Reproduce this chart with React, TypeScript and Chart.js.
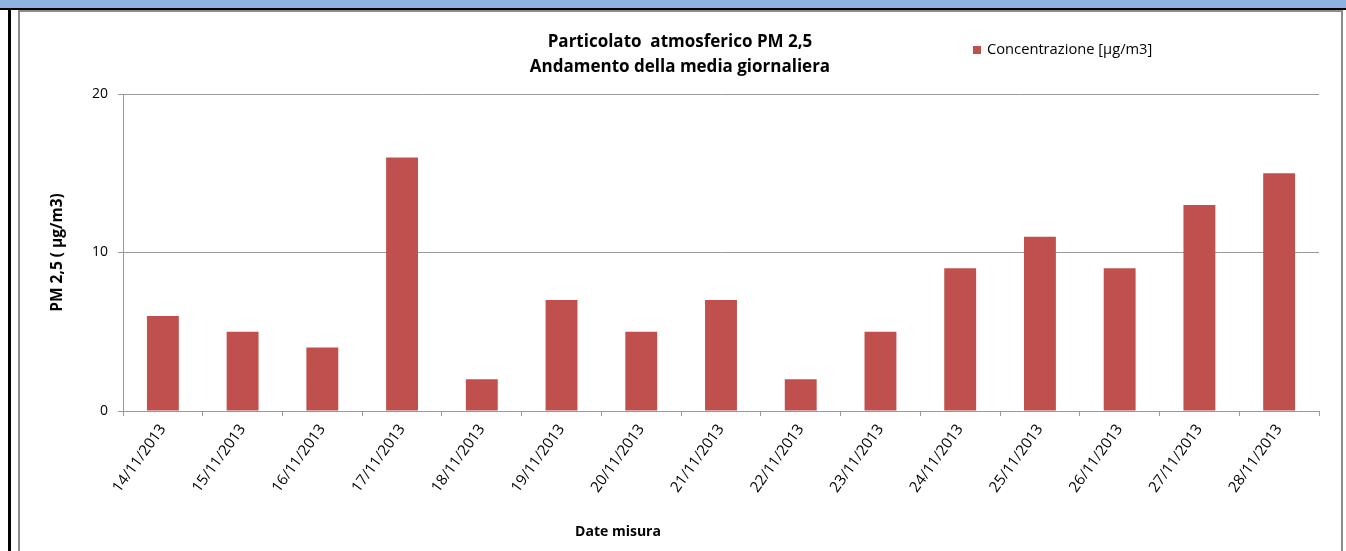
import React, { useEffect, useRef } from "react";
import { Chart, registerables } from "chart.js";

Chart.register(...registerables);

const categories = [
  "14/11/2013", "15/11/2013", "16/11/2013", "17/11/2013", "18/11/2013",
  "19/11/2013", "20/11/2013", "21/11/2013", "22/11/2013", "23/11/2013",
  "24/11/2013", "25/11/2013", "26/11/2013", "27/11/2013", "28/11/2013",
];
const concentration = [6, 5, 4, 16, 2, 7, 5, 7, 2, 5, 9, 11, 9, 13, 15];
const seriesLabel = "Concentrazione [µg/m3]";
const titleLines = ["Particolato  atmosferico PM 2,5", "Andamento della media giornaliera"];
const yAxisTitle = "PM 2,5 ( µg/m3)";
const xAxisTitle = "Date misura";
const yMin = 0;
const yMax = 20;
const yStep = 10;

const BAR = "#C0504D";
const GRID = "#9a9a9a";
const FONT = '"Open Sans", "DejaVu Sans", sans-serif';

const overlayPlugin = {
  id: "overlay",
  afterDraw(chart: any) {
    const ctx = chart.ctx as CanvasRenderingContext2D;
    ctx.save();
    // legend
    ctx.fillStyle = BAR;
    ctx.fillRect(953, 34, 8, 8);
    ctx.fillStyle = "#000";
    ctx.font = `14.7px ${FONT}`;
    ctx.textAlign = "left";
    ctx.textBaseline = "middle";
    ctx.fillText(chart.data.datasets[0].label, 967, 38);
    // x-axis title
    ctx.font = `bold 14px ${FONT}`;
    ctx.textAlign = "center";
    ctx.fillText(xAxisTitle, 598, 520);
    ctx.restore();
  },
};

export default function App() {
  const canvasRef = useRef<HTMLCanvasElement | null>(null);

  useEffect(() => {
    if (!canvasRef.current) return;
    const chart = new Chart(canvasRef.current, {
      type: "bar",
      data: {
        labels: categories,
        datasets: [
          {
            label: seriesLabel,
            data: concentration,
            backgroundColor: BAR,
            borderWidth: 0,
            categoryPercentage: 1,
            barPercentage: 0.4,
          },
        ],
      },
      options: {
        animation: false,
        responsive: false,
        maintainAspectRatio: false,
        layout: { padding: 0 },
        plugins: {
          legend: { display: false },
          tooltip: { enabled: false },
          title: {
            display: true,
            text: titleLines,
            color: "#000",
            font: { family: FONT, size: 17, weight: "bold", lineHeight: 25 / 17 },
            padding: { top: 18, bottom: 14 },
          },
        },
        scales: {
          x: {
            offset: true,
            grid: {
              display: true,
              drawOnChartArea: false,
              drawTicks: true,
              tickLength: 5,
              color: GRID,
              offset: true,
            },
            border: { display: true, color: GRID, width: 1 },
            ticks: {
              color: "#000",
              font: { family: FONT, size: 15 },
              minRotation: 54,
              maxRotation: 54,
              padding: 5,
              autoSkip: false,
            },
            afterFit(scale: any) {
              scale.height = 140;
            },
          },
          y: {
            min: yMin,
            max: yMax,
            ticks: {
              stepSize: yStep,
              color: "#000",
              font: { family: FONT, size: 14 },
              padding: 10,
            },
            grid: { color: GRID, tickLength: 5, drawTicks: true },
            border: { display: true, color: GRID, width: 1 },
            title: {
              display: true,
              text: yAxisTitle,
              color: "#000",
              font: { family: FONT, size: 15.5, weight: "bold" },
              padding: { top: 28, bottom: 0 },
            },
            afterFit(scale: any) {
              scale.width = 103;
            },
          },
          yRightSpace: {
            position: "right",
            display: true,
            min: yMin,
            max: yMax,
            grid: { display: false, drawTicks: false },
            border: { display: false },
            ticks: { display: false },
            afterFit(scale: any) {
              scale.width = 21;
            },
          },
        },
      },
      plugins: [overlayPlugin],
    });
    return () => chart.destroy();
  }, []);

  return (
    <div
      style={{
        position: "fixed",
        left: 0,
        top: 0,
        width: 1346,
        height: 551,
        background: "#fff",
        overflow: "hidden",
      }}
    >
      <div style={{ position: "absolute", left: 0, top: 0, width: 1346, height: 9, background: "#8DB3E2" }} />
      <div style={{ position: "absolute", left: 0, top: 8, width: 1346, height: 2, background: "#000" }} />
      <div style={{ position: "absolute", left: 8, top: 8, width: 3, height: 560, background: "#000" }} />
      <div
        style={{
          position: "absolute",
          left: 18,
          top: 10,
          width: 1321,
          height: 600,
          border: "2px solid #8c8c8c",
        }}
      />
      <canvas
        ref={canvasRef}
        width={1320}
        height={539}
        style={{ position: "absolute", left: 20, top: 12, width: 1320, height: 539 }}
      />
    </div>
  );
}
